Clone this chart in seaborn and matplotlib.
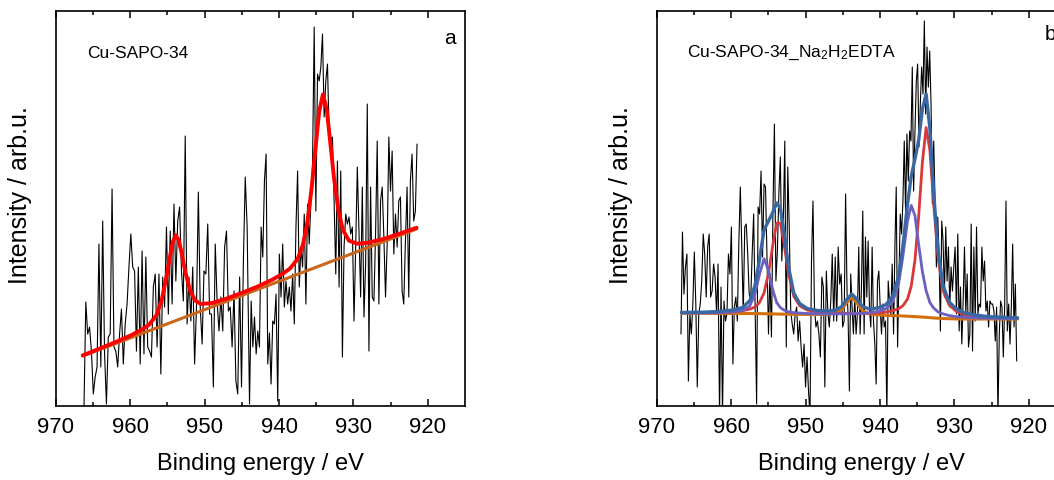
"""
plot.py
Cu 2p XPS spectra of Cu-SAPO-34 before (a) and after (b) Na2H2EDTA treatment.
"""

import numpy as np
import pandas as pd
import matplotlib
matplotlib.use("Agg")
import matplotlib.pyplot as plt
from matplotlib import font_manager
import seaborn as sns

# ---------------------------------------------------------------------------
# Data (intensity in arbitrary units)
# ---------------------------------------------------------------------------
# panel a - raw counts, two scan segments (966.2-944.3 eV and 944.0-921.4 eV)
counts_a_hi = [
    -5, 104, 72, 79, 55, 12, 29, 39, 162, 39,
    185, 52, 2, 69, 72, 217, 59, 55, 39, 72,
    97, 42, 82, 102, 139, 172, 139, 135, 55, 139,
    42, 155, 52, 149, 59, 55, 49, 119, 132, 59,
    132, 32, 129, 99, 179, 92, 175, 102, 202, 125,
    185, 199, 135, 105, 270, 82, 129, 85, 139, 42,
    99, 214, 99, 62, 135, 132, 182, 92, 92, 19,
    162, 105, 75, 109, 75, 159, 175, 95, 99, 59,
    115, 25, 12, 129, 19, 145, 229, 179,
]
counts_a_lo = [
    2, 105, 59, 89, 52, 75, 59, 179, 149, 225,
    252, 42, 73, 22, 85, 82, 112, 5, 152, 109,
    162, 99, 125, 102, 119, 95, 132, 82, 179, 235,
    119, 159, 139, 192, 102, 202, 162, 205, 242, 379,
    195, 332, 325, 339, 372, 289, 325, 342, 272, 265,
    269, 205, 132, 245, 119, 235, 49, 159, 192, 182,
    189, 172, 179, 85, 159, 239, 175, 109, 219, 89,
    142, 302, 55, 219, 109, 105, 172, 265, 102, 205,
    219, 169, 109, 162, 269, 215, 255, 152, 192, 159,
    205, 209, 115, 102, 165, 219, 109, 225, 252, 185,
    195, 262,
]
range_a_hi = (966.24, 944.29)
range_a_lo = (943.97, 921.44)

# panel a - linear background and fit envelope
bg_a_energy = [966.4, 921.5]
bg_a = [50, 177]
fit_a_energy = [
    966.4, 964, 962, 960, 958.5, 957.5, 956.5, 955.8, 955.2, 954.7,
    954.3, 953.9, 953.5, 953.1, 952.6, 952.0, 951.3, 950.5, 949, 947,
    945, 943, 941, 939.5, 938.5, 937.5, 936.8, 936.2, 935.6, 935.1,
    934.6, 934.1, 933.6, 933.1, 932.6, 932.0, 931.4, 930.6, 929.5, 928,
    926, 924, 921.5,
]
fit_a = [
    50.7, 57.8, 63.9, 70.4, 76.2, 81.1, 90.7, 105.4, 126.6, 148.4,
    163.7, 170.9, 166.0, 152.9, 134.0, 116.4, 105.6, 102.0, 103.0, 107.6,
    113.1, 119.1, 126.0, 132.2, 137.7, 147.1, 160.8, 183.1, 218.9, 257.6,
    294.5, 311.6, 297.3, 263.1, 227.4, 194.9, 176.0, 165.4, 162.3, 163.3,
    167.0, 171.8, 178.3,
]

# panel b - raw counts, two scan segments
counts_b_hi = [
    72, 174, 112, 139, 152, 25, 92, 72, 102, 154,
    102, 19, 92, 102, 125, 172, 152, 109, 159, 172,
    109, 115, 142, 129, 92, 142, -10, 119, -10, 105,
    85, 92, 152, 132, 179, 42, 99, 109, 85, 162,
    219, 159, 92, 179, 182, 152, 112, 105, 152, 192,
    95, 2, 199, 192, 235, 149, 222, 219, 149, 72,
    132, 69, 192, 282, 125, 155, 212, 249, 145, 185,
    265, 59, 239, 179, 95, 82, 72, 92, 99, 65,
    85, 59, 39, 62, 19, 49, 15, -10, 145, 205,
    99, 79, 85, 72, 49, 129, 119, 19, 135, 95,
    79, 105, 152, 85, 149, 85, 159, 122, 132, 79,
    85, 212, 112,
]
counts_b_lo = [
    92, 15, 132, 99, 72, 109, 72, 92, 159, 72,
    119, 195, 72, 169, 109, 165, 99, 79, 159, 85,
    62, 22, 125, 135, 99, 72, 102, 79, 85, -10,
    125, 105, 92, 142, 72, 159, 219, 59, 125, 192,
    172, 205, 265, 192, 272, 225, 275, 265, 339, 215,
    275, 325, 342, 259, 302, 339, 312, 385, 292, 359,
    319, 355, 302, 202, 265, 205, 139, 189, 152, 75,
    185, 165, 109, 179, 125, 159, 99, 139, 115, 139,
    159, 92, 172, 75, 119, 62, 105, 159, 92, 132,
    59, 72, 182, 55, 159, 85, 179, 92, 102, 99,
    159, 125, 145, 95, 105, 79, 105, 102, 102, 95,
    65, 99, -10, 72, 105, 99, 49, 99, 205, 75,
    102, 62, 99, 162, 79, 122, 45,
]
range_b_hi = (966.77, 944.43)
range_b_lo = (944.30, 921.62)

# panel b - fitted components (each drawn on top of the Shirley background)
fit_b_energy = [
    966.7, 964, 962, 960, 958.5, 957.5, 956.8, 956.2, 955.6, 955.0,
    954.4, 953.9, 953.4, 952.9, 952.3, 951.6, 950.8, 949.8, 948.5, 947,
    946, 945.2, 944.5, 943.8, 943.1, 942.4, 941.5, 940.3, 939.2, 938.3,
    937.5, 936.9, 936.3, 935.8, 935.3, 934.8, 934.3, 933.8, 933.3, 932.8,
    932.2, 931.5, 930.7, 929.8, 928.7, 927.3, 925.5, 923.5, 921.5,
]
fit_b_satellite = [
    92.8, 92.7, 92.6, 92.6, 92.5, 92.5, 92.4, 92.4, 92.3, 92.2,
    92.1, 92.0, 91.9, 91.9, 91.8, 91.7, 91.7, 91.6, 91.6, 91.9,
    93.0, 96.2, 103.3, 108.8, 103.1, 95.8, 92.3, 91.1, 90.7, 90.4,
    90.2, 90.0, 89.8, 89.6, 89.4, 89.2, 88.9, 88.7, 88.4, 88.1,
    87.8, 87.5, 87.3, 87.1, 87.0, 87.0, 87.0, 87.0, 87.0,
]
fit_b_cu2 = [
    93.2, 93.3, 93.6, 94.2, 95.3, 96.9, 99.1, 103.6, 113.1, 132.7,
    161.9, 182.9, 182.8, 161.6, 132.3, 109.7, 100.2, 96.0, 94.1, 93.2,
    92.8, 92.7, 92.6, 92.5, 92.5, 92.5, 92.7, 93.2, 94.0, 95.3,
    97.3, 100.5, 107.0, 120.0, 146.0, 190.0, 244.0, 278.5, 256.0, 204.0,
    148.0, 115.0, 101.0, 95.0, 91.6, 89.8, 88.7, 88.1, 87.8,
]
fit_b_cu2_high = [
    93.0, 93.1, 93.3, 94.0, 95.5, 100.2, 112.5, 132.1, 147.3, 135.8,
    115.4, 103.5, 98.4, 95.9, 94.3, 93.4, 93.0, 92.5, 92.3, 92.1,
    92.1, 92.2, 92.2, 92.3, 92.5, 92.7, 93.1, 94.5, 97.3, 104.2,
    122.3, 151.0, 185.3, 200.6, 190.4, 161.3, 134.4, 115.3, 103.6, 98.1,
    94.1, 92.1, 90.5, 89.4, 88.7, 88.2, 87.8, 87.6, 87.4,
]
fit_b_envelope = [
    93.6, 93.8, 94.4, 95.8, 98.4, 105.5, 121.0, 147.0, 176.0, 185.0,
    194.0, 203.0, 198.0, 173.0, 139.0, 113.0, 102.5, 97.5, 95.6, 95.0,
    95.9, 99.2, 106.3, 112.0, 106.7, 99.8, 97.1, 98.0, 101.4, 109.6,
    129.8, 161.5, 202.0, 230.0, 247.0, 266.0, 297.0, 312.0, 278.0, 215.0,
    155.0, 120.0, 104.0, 97.5, 93.3, 91.0, 89.5, 88.7, 88.2,
]

sample_a = "Cu-SAPO-34"
sample_b = r"Cu-SAPO-34_Na$_2$H$_2$EDTA"
xticks_major = [970, 960, 950, 940, 930, 920]

# ---------------------------------------------------------------------------
# Style
# ---------------------------------------------------------------------------
sns.set_theme(style="ticks")
plt.rcParams["font.family"] = ["Liberation Sans", "DejaVu Sans"]
plt.rcParams["mathtext.fontset"] = "custom"
plt.rcParams["mathtext.rm"] = "Liberation Sans"
plt.rcParams["mathtext.it"] = "Liberation Sans:italic"
plt.rcParams["text.color"] = "black"
plt.rcParams["axes.labelcolor"] = "black"
plt.rcParams["xtick.color"] = "black"
plt.rcParams["xtick.labelcolor"] = "black"

installed = {f.name for f in font_manager.fontManager.ttflist}
tick_font = "Liberation Sans Narrow" if "Liberation Sans Narrow" in installed else "Liberation Sans"


def scan_frame(hi, lo, range_hi, range_lo):
    """Raw counts of both scan segments on their energy grid."""
    energy = np.concatenate([np.linspace(*range_hi, len(hi)), np.linspace(*range_lo, len(lo))])
    return pd.DataFrame({"energy": energy, "counts": np.concatenate([hi, lo])})


def line(ax, x, y, color, lw):
    sns.lineplot(x=x, y=y, ax=ax, color=color, lw=lw, estimator=None, sort=False)


def style_axes(ax):
    ax.set_xlim(970, 915)
    ax.set_ylim(0, 395)
    ax.set_xticks(xticks_major)
    ax.set_xticks([965, 955, 945, 935, 925], minor=True)
    ax.set_xticklabels([str(t) for t in xticks_major], fontsize=16, fontfamily=tick_font)
    ax.set_yticks([])
    ax.tick_params(axis="x", which="both", direction="in", top=True, bottom=True,
                   width=1.1, color="black", pad=7)
    ax.tick_params(axis="x", which="major", length=5)
    ax.tick_params(axis="x", which="minor", length=3)
    for s in ax.spines.values():
        s.set_visible(True)
        s.set_linewidth(1.2)
        s.set_color("black")
    ax.set_xlabel("Binding energy / eV", fontsize=17, labelpad=11)
    ax.set_ylabel("Intensity / arb.u.", fontsize=18)
    ax.yaxis.set_label_coords(-0.058, 0.537)


fig = plt.figure(figsize=(10.54, 4.81), dpi=100)
ax_a = fig.add_axes([0.0531, 0.1538, 0.388, 0.8212])
ax_b = fig.add_axes([0.6233, 0.1538, 0.388, 0.8212])

# panel a
raw_a = scan_frame(counts_a_hi, counts_a_lo, range_a_hi, range_a_lo)
line(ax_a, raw_a["energy"], raw_a["counts"], "black", 0.8)
line(ax_a, bg_a_energy, bg_a, "#c8661c", 2.2)
line(ax_a, fit_a_energy, fit_a, "#ff0000", 2.8)
style_axes(ax_a)
ax_a.text(0.076, 0.896, sample_a, transform=ax_a.transAxes, fontsize=12.5, va="center")
ax_a.text(0.963, 0.934, "a", transform=ax_a.transAxes, fontsize=15, ha="center", va="center")

# panel b
raw_b = scan_frame(counts_b_hi, counts_b_lo, range_b_hi, range_b_lo)
line(ax_b, raw_b["energy"], raw_b["counts"], "black", 0.8)
line(ax_b, fit_b_energy, fit_b_satellite, "#d2700c", 2.2)
line(ax_b, fit_b_energy, fit_b_cu2, "#d8383c", 2.0)
line(ax_b, fit_b_energy, fit_b_cu2_high, "#6a60c4", 2.0)
line(ax_b, fit_b_energy, fit_b_envelope, "#3868a4", 2.4)
style_axes(ax_b)
ax_b.text(0.073, 0.896, sample_b, transform=ax_b.transAxes, fontsize=12.5, va="center")
ax_b.text(0.961, 0.942, "b", transform=ax_b.transAxes, fontsize=15, ha="center", va="center")

fig.savefig("out.png", dpi=100)
plt.close(fig)
